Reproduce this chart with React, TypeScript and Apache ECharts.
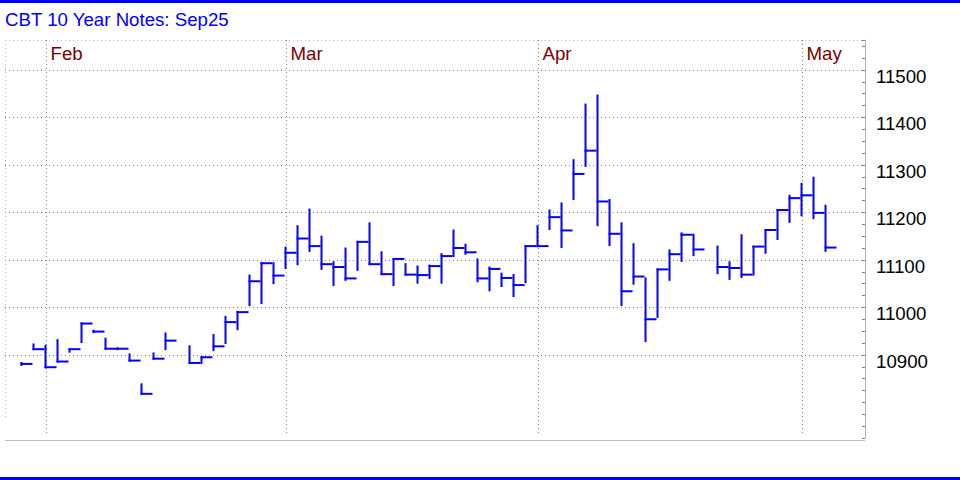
import React, { useEffect, useRef } from 'react';
import * as echarts from 'echarts';

// Daily bars (trading-day slots), null = no session (holiday)
const highs: (number | null)[] = [
  10883, 10922, 10919, 10931, 10912, 10966, 10951, 10934, 10914, 10901,
  10838, 10903, 10945, null, 10918, 10895, 10942, 10980, 10990, 11067,
  11093, 11093, 11126, 11171, 11206, 11149, 11095, 11124, 11138, 11177,
  11116, 11102, 11091, 11086, 11088, 11112, 11162, 11132, 11101, 11084,
  11071, 11068, 11129, 11171, 11204, 11219, 11310, 11427, 11446, 11226,
  11177, 11133, 11061, 11080, 11120, 11156, 11153, null, 11128, 11095,
  11152, 11128, 11163, 11205, 11235, 11260, 11273, 11214,
];
const lows: (number | null)[] = [
  10879, 10912, 10874, 10886, 10907, 10927, 10948, 10913, 10912, 10888,
  10818, 10892, 10912, null, 10883, 10883, 10910, 10925, 10954, 11005,
  11009, 11051, 11083, 11091, 11119, 11081, 11047, 11058, 11079, 11091,
  11070, 11047, 11069, 11052, 11062, 11052, 11108, 11113, 11055, 11036,
  11045, 11024, 11053, 11129, 11165, 11127, 11228, 11298, 11173, 11131,
  11005, 11050, 10929, 10980, 11058, 11098, 11110, null, 11072, 11060,
  11064, 11069, 11115, 11144, 11180, 11194, 11188, 11119,
];
const closes: (number | null)[] = [
  10881, 10912, 10874, 10886, 10912, 10966, 10949, 10913, 10913, 10888,
  10818, 10892, 10930, null, 10883, 10895, 10918, 10969, 10990, 11055,
  11093, 11067, 11115, 11145, 11129, 11091, 11085, 11061, 11138, 11091,
  11070, 11102, 11069, 11068, 11087, 11108, 11125, 11116, 11061, 11081,
  11062, 11047, 11129, 11129, 11190, 11162, 11281, 11330, 11223, 11155,
  11034, 11065, 10975, 11080, 11112, 11153, 11122, null, 11085, 11083,
  11069, 11128, 11163, 11205, 11230, 11236, 11199, 11126,
];

const monthNames = ['Feb', 'Mar', 'Apr', 'May'];
const monthIdx = [2, 22, 43, 65];
const gridLevels = [10900, 11000, 11100, 11200, 11300, 11400, 11500];
const titleText = 'CBT 10 Year Notes: Sep25';

const FONT = 'Arial, "Liberation Sans", sans-serif';
const BLUE = '#0000ff';

export default function App() {
  const ref = useRef<HTMLDivElement>(null);

  useEffect(() => {
    document.body.style.margin = '0';
    const chart = echarts.init(ref.current!, null, { renderer: 'svg' });

    const bars: number[][] = [];
    highs.forEach((h, i) => {
      if (h != null) bars.push([i, h, lows[i] as number, closes[i] as number]);
    });

    const option: any = {
      animation: false,
      backgroundColor: '#ffffff',
      title: {
        text: titleText,
        left: 5,
        top: 10,
        padding: 0,
        textStyle: { color: BLUE, fontSize: 18.67, fontWeight: 'normal', fontFamily: FONT },
      },
      grid: { left: 5, right: 95, top: 40, bottom: 42 },
      xAxis: { type: 'value', min: -1.375, max: 70.29, show: false },
      yAxis: {
        type: 'value',
        position: 'right',
        min: 10725,
        max: 11563,
        interval: 25,
        axisLine: { show: true, onZero: false, lineStyle: { color: '#b4b4b4', width: 1 } },
        axisTick: { show: true, inside: true, length: 3, lineStyle: { color: '#808080' } },
        splitLine: { show: false },
        axisLabel: {
          margin: 11,
          color: '#000000',
          fontSize: 18.67,
          fontFamily: FONT,
          verticalAlign: 'top',
          lineHeight: 13,
          formatter: (v: number) => {
            const r = Math.round(v);
            return gridLevels.indexOf(r) >= 0 ? String(r) : '';
          },
        },
      },
      graphic: [
        { type: 'rect', shape: { x: 0, y: 0, width: 960, height: 3 }, style: { fill: BLUE } },
        { type: 'rect', shape: { x: 0, y: 477, width: 960, height: 3 }, style: { fill: BLUE } },
        { type: 'line', shape: { x1: 5, y1: 40.5, x2: 863, y2: 40.5 }, style: { stroke: '#b4b4b4', lineWidth: 1, lineDash: [1, 3] } },
        { type: 'line', shape: { x1: 5.5, y1: 40, x2: 5.5, y2: 420 }, style: { stroke: '#b4b4b4', lineWidth: 1, lineDash: [1, 3] } },
        { type: 'line', shape: { x1: 5, y1: 440.5, x2: 865, y2: 440.5 }, style: { stroke: '#c0c0c0', lineWidth: 1 } },
      ],
      series: [
        {
          type: 'custom',
          name: 'grid',
          silent: true,
          z: 1,
          data: gridLevels.map((v) => [0, v]),
          renderItem: (params: any, api: any) => {
            const cs = params.coordSys;
            const y = Math.round(api.coord([0, api.value(1)])[1]) + 0.5;
            return {
              type: 'line',
              shape: { x1: cs.x, y1: y, x2: cs.x + cs.width - 3, y2: y },
              style: { stroke: '#808080', lineWidth: 1, lineDash: [1, 3] },
            };
          },
        },
        {
          type: 'custom',
          name: 'months',
          silent: true,
          z: 1,
          data: monthIdx.map((i, k) => [i, k]),
          renderItem: (params: any, api: any) => {
            const cs = params.coordSys;
            const x = Math.round(api.coord([api.value(0), 11000])[0]) + 0.5;
            return {
              type: 'group',
              children: [
                {
                  type: 'line',
                  shape: { x1: x, y1: cs.y, x2: x, y2: cs.y + cs.height - 2 },
                  style: { stroke: '#808080', lineWidth: 1, lineDash: [1, 3] },
                },
                {
                  type: 'text',
                  style: {
                    text: monthNames[api.value(1)],
                    x: x + 4,
                    y: cs.y + 13.5,
                    align: 'left',
                    verticalAlign: 'middle',
                    fill: '#800000',
                    fontSize: 18.67,
                    fontFamily: FONT,
                  },
                },
              ],
            };
          },
        },
        {
          type: 'custom',
          name: 'bars',
          z: 5,
          data: bars,
          renderItem: (params: any, api: any) => {
            const i = api.value(0);
            const top = api.coord([i, api.value(1)]);
            const bot = api.coord([i, api.value(2)]);
            const cl = api.coord([i, api.value(3)]);
            const w = api.size([1, 0])[0];
            const x = top[0];
            return {
              type: 'group',
              children: [
                {
                  type: 'line',
                  shape: { x1: x, y1: top[1] - 1, x2: x, y2: bot[1] + 1 },
                  style: { stroke: BLUE, lineWidth: 2 },
                },
                {
                  type: 'line',
                  shape: { x1: x - 1, y1: cl[1], x2: x - 1 + w, y2: cl[1] },
                  style: { stroke: BLUE, lineWidth: 2 },
                },
              ],
            };
          },
        },
      ],
    };

    chart.setOption(option);
    return () => chart.dispose();
  }, []);

  return <div ref={ref} style={{ width: 960, height: 480, background: '#fff' }} />;
}
